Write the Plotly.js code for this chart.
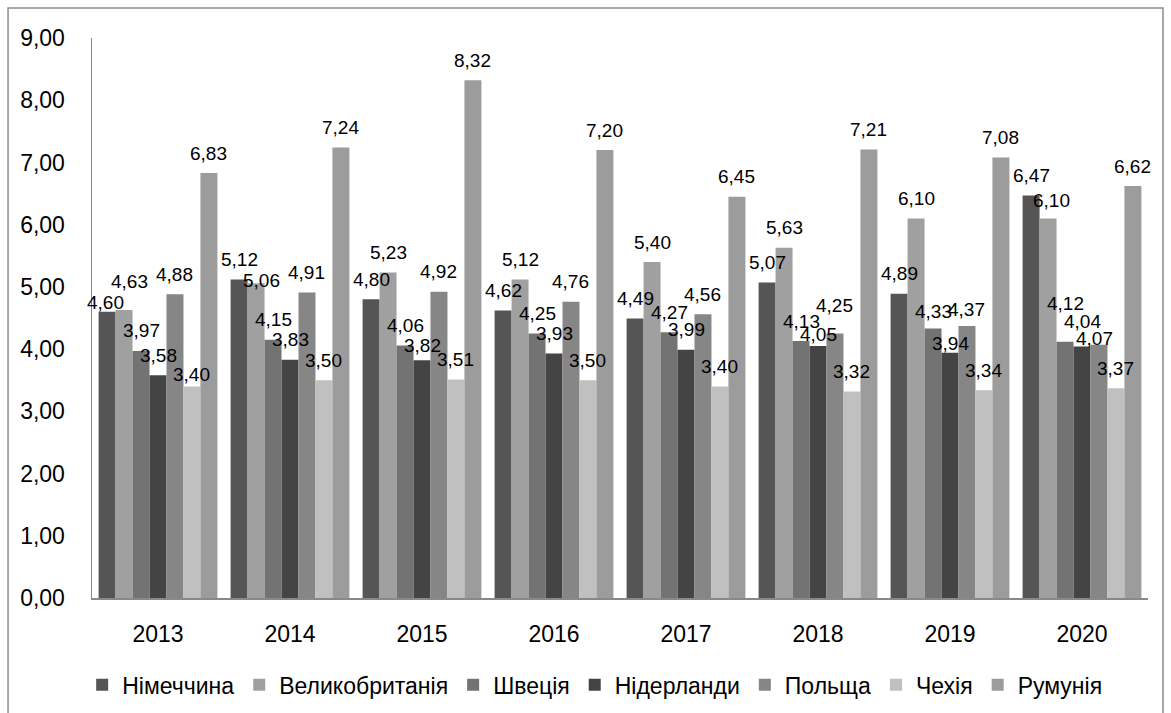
<!DOCTYPE html>
<html>
<head>
<meta charset="utf-8">
<script src="https://cdn.plot.ly/plotly-3.0.1.min.js"></script>
<style>html,body{margin:0;padding:0;background:#fff;}#chart{width:1171px;height:713px;}</style>
</head>
<body>
<div id="chart"></div>
<script>
var years = ['2013','2014','2015','2016','2017','2018','2019','2020'];
var germany     = [4.60, 5.12, 4.80, 4.62, 4.49, 5.07, 4.89, 6.47];
var uk          = [4.63, 5.06, 5.23, 5.12, 5.40, 5.63, 6.10, 6.10];
var sweden      = [3.97, 4.15, 4.06, 4.25, 4.27, 4.13, 4.33, 4.12];
var netherlands = [3.58, 3.83, 3.82, 3.93, 3.99, 4.05, 3.94, 4.04];
var poland      = [4.88, 4.91, 4.92, 4.76, 4.56, 4.25, 4.37, 4.07];
var czechia     = [3.40, 3.50, 3.51, 3.50, 3.40, 3.32, 3.34, 3.37];
var romania     = [6.83, 7.24, 8.32, 7.20, 6.45, 7.21, 7.08, 6.62];
var yTicks = [0,1,2,3,4,5,6,7,8,9];

var series = [
  {name:'Німеччина', y:germany, color:'#555555'},
  {name:'Великобританія', y:uk, color:'#a0a0a0'},
  {name:'Швеція', y:sweden, color:'#737373'},
  {name:'Нідерланди', y:netherlands, color:'#444444'},
  {name:'Польща', y:poland, color:'#868686'},
  {name:'Чехія', y:czechia, color:'#c0c0c0'},
  {name:'Румунія', y:romania, color:'#9c9c9c'}
];

// label nudges (style only): [seriesIndex, yearIndex, dyPx (up), dxPx]
var labelNudges = [
  [0,0,-11,-2],[1,0,8,5],[5,0,-8,0],
  [1,1,-17,5],
  [3,2,-5,0],
  [3,5,-8,0],[4,5,8,0],
  [2,6,-3,0],[3,6,-11,0],[4,6,-3,0],
  [1,7,-2,3],[2,7,18,0],[3,7,5,0],[4,7,-14,-4]
];

var font = 'Liberation Sans, Arial, sans-serif';
var bargap = 0.1;
var nS = series.length;
var barW = (1 - bargap) / nS;

var data = series.map(function(s){
  return {
    type:'bar', name:s.name, x:years, y:s.y,
    marker:{color:s.color, line:{width:0}},
    hoverinfo:'skip'
  };
});

function fmt(v){ return v.toFixed(2).replace('.', ','); }
function nudge(i, j){
  for (var k = 0; k < labelNudges.length; k++){
    if (labelNudges[k][0] === i && labelNudges[k][1] === j) return labelNudges[k];
  }
  return [i, j, 0, 0];
}

var annotations = [];
series.forEach(function(s, i){
  s.y.forEach(function(v, j){
    var n = nudge(i, j);
    annotations.push({
      x: j + (i - (nS - 1) / 2) * barW, y: v, xref:'x', yref:'y',
      text: fmt(v), showarrow:false, yanchor:'middle', xanchor:'center',
      yshift: 20 + n[2], xshift: n[3],
      font:{family:font, size:19, color:'#000'}
    });
  });
});

var layout = {
  width:1171, height:713,
  margin:{l:92, r:23, t:38, b:115, autoexpand:false},
  paper_bgcolor:'#fff', plot_bgcolor:'#fff',
  separators:', ',
  barmode:'group', bargap:bargap, bargroupgap:0,
  font:{family:font, size:23, color:'#000'},
  xaxis:{
    type:'category', range:[-0.5, years.length - 0.5],
    showgrid:false, zeroline:false, automargin:false,
    showline:true, linecolor:'#898989', linewidth:2,
    ticks:'', tickfont:{family:font, size:23, color:'#000'},
    ticklabelstandoff:14
  },
  yaxis:{
    range:[0,9], tickvals:yTicks, tickformat:'.2f', automargin:false,
    showgrid:false, zeroline:false,
    showline:true, linecolor:'#898989', linewidth:1.5,
    ticks:'', ticklen:0, tickfont:{family:font, size:23, color:'#000'},
    ticklabelstandoff:21
  },
  showlegend:true,
  legend:{
    orientation:'h', x:0.476, xanchor:'center', y:-0.155, yanchor:'middle',
    font:{family:font, size:23, color:'#000'},
    traceorder:'normal'
  },
  annotations: annotations,
  shapes:[{
    type:'rect', xref:'paper', yref:'paper',
    x0:-0.0795, x1:1.0142, y0:-0.25, y1:1.0536,
    line:{color:'#8c8c8c', width:1.5}, fillcolor:'rgba(0,0,0,0)', layer:'below'
  }]
};

Plotly.newPlot('chart', data, layout, {staticPlot:true, displayModeBar:false});
</script>
</body>
</html>
